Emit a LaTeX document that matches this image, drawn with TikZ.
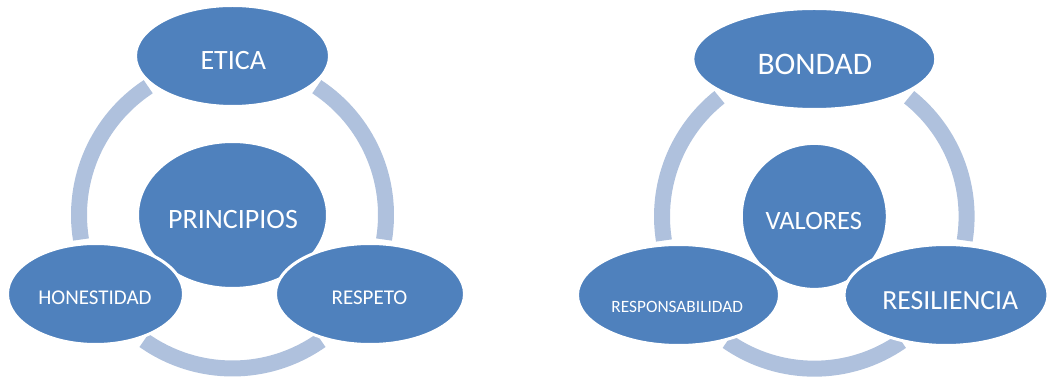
\documentclass[tikz,border=0pt]{standalone}
\usepackage{fontspec}
\setmainfont{Carlito}
\usetikzlibrary{shapes.geometric}
\definecolor{blobblue}{HTML}{4F81BD}
\definecolor{ringblue}{HTML}{AFC1DD}
\tikzset{
  blob/.style={ellipse, fill=blobblue, draw=white, line width=3pt, inner sep=0pt},
  ring/.style={draw=ringblue, line width=16pt, line cap=butt},
  lbl/.style={text=white, anchor=base, inner sep=0pt}
}
\begin{document}
\begin{tikzpicture}[x=1pt,y=1pt]
\useasboundingbox (0,0) rectangle (1048,377);
% ---------- left diagram ----------
\coordinate (c1) at (232.5,162);
\draw[ring] ([shift={(56.7:153.5)}]c1) arc[start angle=56.7, end angle=-9.2, radius=153.5];
\draw[ring] ([shift={(123.3:153.5)}]c1) arc[start angle=123.3, end angle=189.2, radius=153.5];
\draw[ring] ([shift={(234.8:153.5)}]c1) arc[start angle=234.8, end angle=305.2, radius=153.5];
\node[blob, minimum width=190pt, minimum height=147pt] (principios) at (c1) {};
\node[blob, minimum width=194pt, minimum height=101pt] (etica) at (232.5,321) {};
\node[blob, minimum width=176pt, minimum height=101pt] (honestidad) at (95.5,83) {};
\node[blob, minimum width=189pt, minimum height=101pt] (respeto) at (370,83) {};
\node[lbl, font=\fontsize{28}{30}\selectfont] (t-etica) at (233.3,307) {ETICA};
\node[lbl, font=\fontsize{28}{30}\selectfont] (t-principios) at (233,148.7) {PRINCIPIOS};
\node[lbl, font=\fontsize{21}{23}\selectfont] (t-honestidad) at (95,72) {HONESTIDAD};
\node[lbl, font=\fontsize{21}{23}\selectfont] (t-respeto) at (369.5,72) {RESPETO};
% ---------- right diagram ----------
\coordinate (c2) at (814.3,160.6);
\draw[ring] ([shift={(51.5:152.3)}]c2) arc[start angle=51.5, end angle=-9.1, radius=152.3];
\draw[ring] ([shift={(128.5:152.3)}]c2) arc[start angle=128.5, end angle=189.1, radius=152.3];
\draw[ring] ([shift={(235.1:152.3)}]c2) arc[start angle=235.1, end angle=304.9, radius=152.3];
\node[blob, minimum width=146pt, minimum height=146pt] (valores) at (c2) {};
\node[blob, minimum width=243pt, minimum height=101pt] (bondad) at (814.3,318) {};
\node[blob, minimum width=202pt, minimum height=101pt] (responsabilidad) at (678.5,82) {};
\node[blob, minimum width=204pt, minimum height=101pt] (resiliencia) at (946,82) {};
\node[lbl, font=\fontsize{31.4}{33}\selectfont] (t-bondad) at (814.8,302) {BONDAD};
\node[lbl, font=\fontsize{26.5}{28}\selectfont] (t-valores) at (813.8,147.7) {VALORES};
\node[lbl, font=\fontsize{17.3}{19}\selectfont] (t-responsabilidad) at (677.2,64.7) {RESPONSABILIDAD};
\node[lbl, font=\fontsize{27.7}{29}\selectfont] (t-resiliencia) at (950.3,67.7) {RESILIENCIA};
\end{tikzpicture}
\end{document}
